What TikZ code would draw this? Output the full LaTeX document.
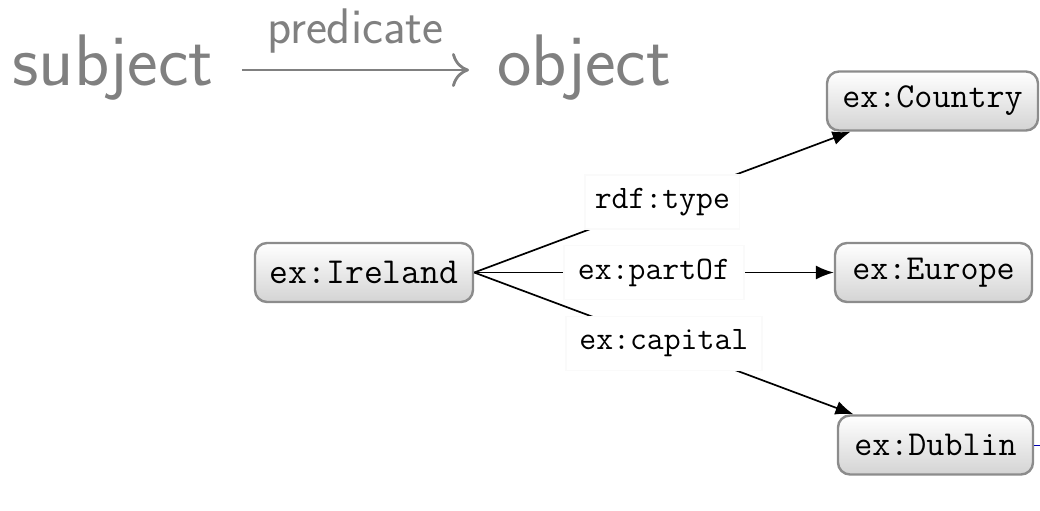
\documentclass[tikz,border=0pt]{standalone}
\usepackage{fontspec}
\usetikzlibrary{arrows.meta,calc}
\definecolor{hdr}{RGB}{128,128,128}
\tikzset{
  rnode/.style={draw=black!45, line width=1.2pt, rounded corners=6pt,
    top color=white, bottom color=black!17, minimum height=29.5pt,
    inner sep=2pt, font=\fontsize{17.5}{20}\selectfont\ttfamily},
  elabel/.style={fill=white, draw=black!2, inner sep=2pt, minimum height=27pt,
    font=\fontsize{16.4}{19}\selectfont\ttfamily},
  edge/.style={line width=0.85pt, -{Latex[length=9pt,width=7pt]}},
  hdrtext/.style={text=hdr, inner sep=0pt, font=\sffamily\fontsize{36.5}{40}\selectfont}
}
\begin{document}
\begin{tikzpicture}[x=0.5pt,y=-0.5pt]
\useasboundingbox (0,0) rectangle (1040,510);
% header
\node[hdrtext, anchor=base west] (subj) at (12,85) {subject};
\node[hdrtext, anchor=base west] (obj) at (497,85) {object};
\draw[hdr, line width=1.4pt, -{To[length=8.5pt,width=17pt]}]
  ([xshift=14pt,yshift=7.5pt]subj.base east) -- ([xshift=-14pt,yshift=7.5pt]obj.base west)
  node[midway, anchor=base, yshift=13.5pt, text=hdr, inner sep=0pt,
       font=\sffamily\fontsize{25}{28}\selectfont\addfontfeatures{LetterSpace=2}] (pred) {predicate};
% nodes
\node[rnode, minimum width=109pt, font=\fontsize{18.3}{21}\selectfont\ttfamily] (ire) at (364,272.5) {ex:Ireland};
\node[rnode, minimum width=105.5pt] (cty) at (932.5,101) {ex:Country};
\node[rnode, minimum width=98.5pt] (eur) at (933.5,272.5) {ex:Europe};
\node[rnode, minimum width=97.5pt] (dub) at (935.5,445) {ex:Dublin};
% edges
\draw[edge] (ire.east) -- (cty) node[elabel, midway, minimum width=77pt] (l1) {rdf:type};
\draw[edge] (ire.east) -- (eur.west) node[elabel, midway, minimum width=90pt] (l2) {ex:partOf};
\draw[edge] (ire.east) -- (dub) node[elabel, midway, minimum width=98pt] (l3) {ex:capital};
\coordinate (stub) at ($(dub.east)+(6,0)$);
\draw[blue!70!black, line width=0.5pt] (dub.east) -- (stub);
\end{tikzpicture}
\end{document}
